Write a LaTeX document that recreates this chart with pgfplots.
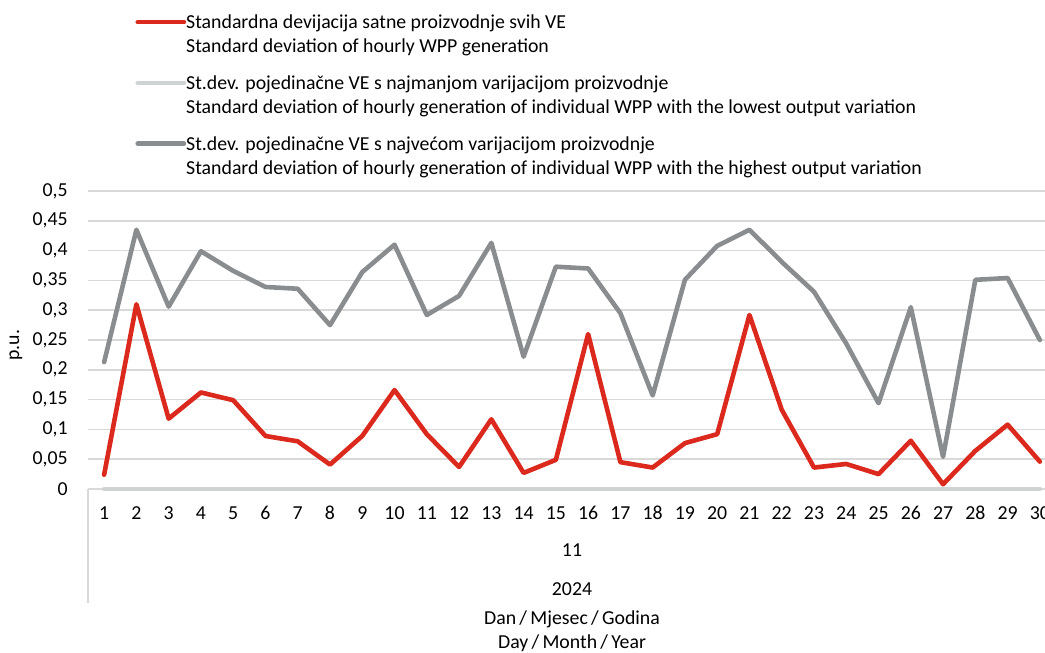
\documentclass[border=0pt]{standalone}
\usepackage{fontspec}
\setmainfont{Carlito}
\usepackage{pgfplots}
\usepackage{pgfplotstable}
\pgfplotsset{compat=1.18}

\definecolor{vered}{RGB}{220,41,30}
\definecolor{vegray}{RGB}{138,141,143}
\definecolor{velight}{RGB}{208,211,212}
\definecolor{gridc}{RGB}{217,217,217}

% dan, sve VE, VE s najmanjom varijacijom, VE s najvecom varijacijom
\pgfplotstableread{
day sve najmanja najveca
1  0.024 0 0.213
2  0.310 0 0.435
3  0.118 0 0.306
4  0.162 0 0.399
5  0.149 0 0.366
6  0.089 0 0.339
7  0.080 0 0.336
8  0.041 0 0.275
9  0.089 0 0.364
10 0.166 0 0.410
11 0.092 0 0.292
12 0.037 0 0.324
13 0.117 0 0.413
14 0.027 0 0.222
15 0.049 0 0.373
16 0.260 0 0.370
17 0.045 0 0.295
18 0.036 0 0.157
19 0.077 0 0.351
20 0.092 0 0.408
21 0.292 0 0.435
22 0.133 0 0.381
23 0.036 0 0.331
24 0.042 0 0.244
25 0.025 0 0.144
26 0.081 0 0.305
27 0.008 0 0.054
28 0.064 0 0.351
29 0.108 0 0.354
30 0.046 0 0.250
}\wpp

\begin{document}
\fontsize{9.9}{12}\selectfont
\begin{tikzpicture}
\path[use as bounding box] (0,0) rectangle (522.5pt,-326.5pt);
\begin{axis}[
    at={(44pt,-244.5pt)}, anchor=south west,
    scale only axis, width=484pt, height=149pt,
    xmin=0.5, xmax=30.5, ymin=0, ymax=0.5,
    clip=false,
    axis lines*=left,
    y axis line style={draw=none},
    x axis line style={draw=gridc, line width=0.75pt},
    xtick={1,...,30},
    ytick={0,0.05,0.1,0.15,0.2,0.25,0.3,0.35,0.4,0.45,0.5},
    tick style={draw=none}, major tick length=0pt,
    ymajorgrids, grid style={draw=gridc, line width=0.75pt},
    /pgf/number format/assume math mode=true,
    yticklabel style={anchor=east, inner sep=0pt, xshift=-10pt,
        /pgf/number format/.cd, use comma, fixed, precision=2},
    xticklabel style={anchor=north, inner sep=0pt, yshift=-8.5pt},
    xlabel={Dan\,/\,Mjesec\,/\,Godina\\Day\,/\,Month\,/\,Year},
    xlabel style={at={(axis description cs:0.5,-0.478)}, anchor=center, align=center},
    ylabel={p.u.},
    ylabel style={at={(axis description cs:-0.0744,0.483)}, anchor=center},
    legend image code/.code={\draw[#1, line cap=round] (1.2pt,6.5pt) -- (24.3pt,6.5pt);},
    legend style={draw=none, fill=none, inner sep=0pt, at={(0.0486,1.5926)}, anchor=north west,
        nodes={inner sep=0pt}, row sep=10pt, cells={anchor=west, align=left},
        /tikz/every even column/.append style={column sep=3.2pt}},
    every axis plot/.append style={line width=2.3pt, line join=round, line cap=round},
]
\addplot[vered] table[x=day, y=sve] {\wpp};
\addlegendentry{Standardna devijacija satne proizvodnje svih VE\\Standard deviation of hourly WPP generation}
\addplot[velight] table[x=day, y=najmanja] {\wpp};
\addlegendentry{St.dev. pojedinačne VE s najmanjom varijacijom proizvodnje\\Standard deviation of hourly generation of individual WPP with the lowest output variation}
\addplot[vegray] table[x=day, y=najveca] {\wpp};
\addlegendentry{St.dev. pojedinačne VE s najvećom varijacijom proizvodnje\\Standard deviation of hourly generation of individual WPP with the highest output variation}

\draw[gridc, line width=0.75pt] (axis description cs:0,0) -- (axis description cs:0,-0.383);
\node at (axis description cs:0.5,-0.205) {11};
\node at (axis description cs:0.5,-0.336) {2024};
\end{axis}
\end{tikzpicture}
\end{document}
